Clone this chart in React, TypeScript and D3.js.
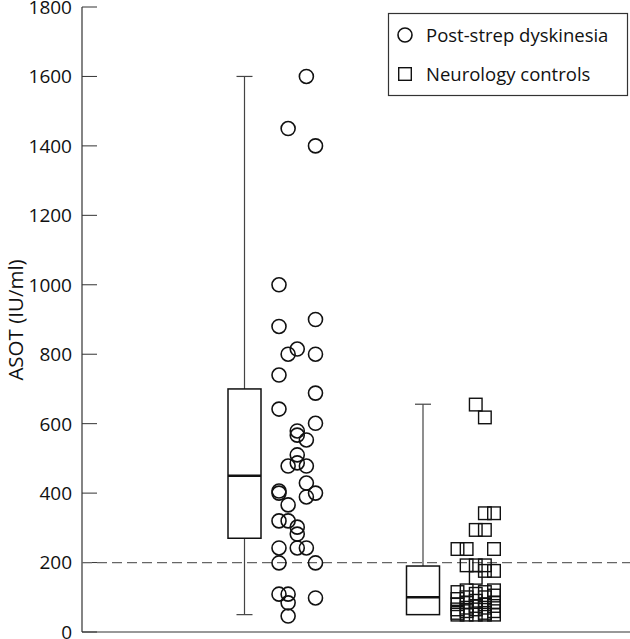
import * as d3 from "d3";

const groups = ["Post-strep dyskinesia", "Neurology controls"];

// box plot summaries per group
const whiskerLow = [50, 50];
const quartile1 = [270, 50];
const medians = [450, 100];
const quartile3 = [700, 190];
const whiskerHigh = [1600, 656];

// individual patients, with their jitter column (0-4)
const dyskValues = [1600, 1450, 1400, 1000, 900, 880, 815, 800, 800, 740, 688, 642, 601, 579, 567, 553, 510, 487, 478, 478, 429, 406, 400, 400, 389, 366, 320, 320, 302, 282, 242, 242, 242, 199, 199, 109, 109, 84, 98, 46];
const dyskColumn = [3, 1, 4, 0, 4, 0, 2, 1, 4, 0, 4, 0, 4, 2, 2, 3, 2, 2, 1, 3, 3, 0, 0, 4, 3, 1, 0, 1, 2, 2, 0, 2, 3, 0, 4, 0, 1, 1, 4, 1];

const controlValues = [655, 618, 342, 342, 294, 294, 239, 239, 239, 192, 192, 192, 176, 176, 156,
  115, 95, 80, 65, 55, 50,
  120, 100, 85, 70, 60, 50,
  110, 90, 75, 65, 50,
  115, 100, 80, 70, 55, 50,
  120, 105, 85, 75, 60, 50];
const controlColumn = [2, 3, 3, 4, 2, 3, 0, 1, 4, 1, 2, 3, 3, 4, 2,
  0, 0, 0, 0, 0, 0,
  1, 1, 1, 1, 1, 1,
  2, 2, 2, 2, 2,
  3, 3, 3, 3, 3, 3,
  4, 4, 4, 4, 4, 4];

const yTicks = [0, 200, 400, 600, 800, 1000, 1200, 1400, 1600, 1800];
const cutoff = 200;

const W = 630;
const H = 639;
const FONT = "'Open Sans', 'DejaVu Sans', sans-serif";

export default function App() {
  const y = d3.scaleLinear().domain([0, 1800]).range([632, 7]);
  const x = d3.scalePoint<string>().domain(groups).range([244.5, 423]);
  const jitter = d3.scaleLinear().domain([0, 4]).range([34.5, 71]);
  const axisX = 82;
  const boxW = 33;
  const capW = 16;
  const r = 7;
  const sq = 12.6;

  return (
    <svg width={W} height={H} style={{ position: "absolute", left: 0, top: 0, background: "#fff" }} fontFamily={FONT}>
      {/* y axis */}
      <line x1={axisX} x2={axisX} y1={y(1800)} y2={y(0)} stroke="#333" strokeWidth={1.2} />
      <line x1={axisX} x2={W} y1={y(0)} y2={y(0)} stroke="#333" strokeWidth={1.2} />
      {yTicks.map((t) => (
        <g key={t}>
          <line x1={axisX} x2={axisX + 15} y1={y(t)} y2={y(t)} stroke="#333" strokeWidth={1} />
          <text x={72} y={y(t)} dy="0.36em" textAnchor="end" fontSize={19} fill="#111">{t}</text>
        </g>
      ))}
      <text transform={`translate(23,${320}) rotate(-90)`} textAnchor="middle" fontSize={20.5} fill="#111">ASOT (IU/ml)</text>

      {/* cutoff */}
      <line x1={axisX} x2={W} y1={y(cutoff)} y2={y(cutoff)} stroke="#666" strokeWidth={1.3} strokeDasharray="10,5" />

      {/* boxes */}
      {groups.map((g, i) => {
        const cx = x(g)!;
        return (
          <g key={g}>
            <line x1={cx} x2={cx} y1={y(whiskerHigh[i])} y2={y(quartile3[i])} stroke="#444" strokeWidth={1.2} />
            <line x1={cx} x2={cx} y1={y(quartile1[i])} y2={y(whiskerLow[i])} stroke="#444" strokeWidth={1.2} />
            <line x1={cx - capW / 2} x2={cx + capW / 2} y1={y(whiskerHigh[i])} y2={y(whiskerHigh[i])} stroke="#444" strokeWidth={1.2} />
            {whiskerLow[i] < quartile1[i] && (
              <line x1={cx - capW / 2} x2={cx + capW / 2} y1={y(whiskerLow[i])} y2={y(whiskerLow[i])} stroke="#444" strokeWidth={1.2} />
            )}
            <rect x={cx - boxW / 2} y={y(quartile3[i])} width={boxW} height={y(quartile1[i]) - y(quartile3[i])} fill="#fff" stroke="#111" strokeWidth={1.5} />
            <line x1={cx - boxW / 2} x2={cx + boxW / 2} y1={y(medians[i])} y2={y(medians[i])} stroke="#111" strokeWidth={2.5} />
          </g>
        );
      })}

      {/* post-strep dyskinesia points */}
      {dyskValues.map((v, i) => (
        <circle key={`d${i}`} cx={x(groups[0])! + jitter(dyskColumn[i])} cy={y(v)} r={r} fill="none" stroke="#111" strokeWidth={1.6} />
      ))}

      {/* neurology controls points */}
      {controlValues.map((v, i) => (
        <rect key={`c${i}`} x={x(groups[1])! + jitter(controlColumn[i]) - sq / 2} y={y(v) - sq / 2} width={sq} height={sq} fill="none" stroke="#111" strokeWidth={1.4} />
      ))}

      {/* legend */}
      <rect x={388.5} y={13.5} width={239} height={82} fill="#fff" stroke="#333" strokeWidth={1.2} />
      <circle cx={405} cy={35} r={r} fill="none" stroke="#111" strokeWidth={1.6} />
      <text x={426} y={35} dy="0.36em" fontSize={18.5} fill="#111">{groups[0]}</text>
      <rect x={405 - sq / 2} y={74 - sq / 2} width={sq} height={sq} fill="none" stroke="#111" strokeWidth={1.4} />
      <text x={426} y={74} dy="0.36em" fontSize={18.5} fill="#111">{groups[1]}</text>
    </svg>
  );
}
